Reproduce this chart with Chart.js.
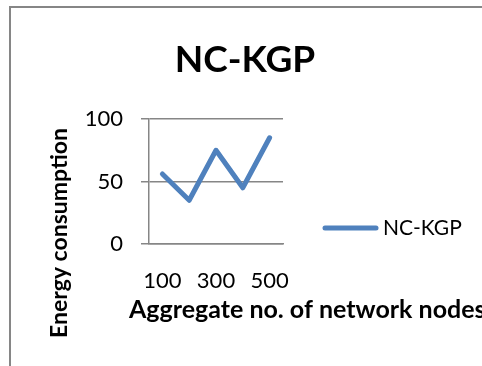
<!DOCTYPE html>
<html>
<head>
<meta charset="utf-8">
<script src="https://cdn.jsdelivr.net/npm/chart.js@4/dist/chart.umd.min.js"></script>
<style>
  html, body { margin: 0; padding: 0; background: #ffffff; }
  #wrap { width: 482px; height: 366px; }
</style>
</head>
<body>
<div id="wrap"><canvas id="chart" width="482" height="366"></canvas></div>
<script>
// Energy consumption of NC-KGP against the number of network nodes
const nodeCounts = [100, 200, 300, 400, 500];
const energyNcKgp = [56, 35, 75, 45, 85];
const yTickValues = [0, 50, 100];
const chartTitle = 'NC-KGP';
const seriesName = 'NC-KGP';
const xAxisTitle = 'Aggregate no. of network nodes';
const yAxisTitle = 'Energy consumption';

const FONT = 'Lato, Carlito, "Open Sans", sans-serif';
const AXIS_GREY = '#868686';
const SERIES_BLUE = '#4F81BD';

// Frame, heading, axis captions and the key, placed around the plot area
const decorations = {
  id: 'decorations',
  beforeDraw(chart) {
    const ctx = chart.ctx;
    ctx.save();
    ctx.fillStyle = '#ffffff';
    ctx.fillRect(0, 0, chart.width, chart.height);
    ctx.strokeStyle = AXIS_GREY;
    ctx.lineWidth = 2;
    ctx.beginPath();
    ctx.moveTo(10, chart.height + 2);
    ctx.lineTo(10, 7);
    ctx.lineTo(chart.width + 2, 7);
    ctx.stroke();
    ctx.restore();
  },
  afterDraw(chart) {
    const ctx = chart.ctx;
    const area = chart.chartArea;
    ctx.save();
    ctx.fillStyle = '#000000';
    ctx.textBaseline = 'alphabetic';

    // heading
    ctx.font = 'bold 37px ' + FONT;
    ctx.textAlign = 'center';
    ctx.fillText(chartTitle, 245, 72);

    // vertical axis caption
    ctx.font = 'bold 23px ' + FONT;
    ctx.textAlign = 'center';
    ctx.translate(area.left - 82, area.bottom - 11);
    ctx.rotate(-Math.PI / 2);
    ctx.fillText(yAxisTitle, 0, 0);
    ctx.setTransform(1, 0, 0, 1, 0, 0);

    // horizontal axis caption
    ctx.font = 'bold 25px ' + FONT;
    ctx.textAlign = 'left';
    ctx.fillText(xAxisTitle, area.left - 20, area.bottom + 74);

    // key
    const ds = chart.data.datasets[0];
    const keyY = area.bottom - 16;
    ctx.strokeStyle = ds.borderColor;
    ctx.lineWidth = ds.borderWidth;
    ctx.lineCap = 'round';
    ctx.beginPath();
    ctx.moveTo(area.right + 42, keyY);
    ctx.lineTo(area.right + 93, keyY);
    ctx.stroke();
    ctx.font = '21px ' + FONT;
    ctx.textAlign = 'left';
    ctx.fillText(ds.label, area.right + 100, keyY + 7);
    ctx.restore();
  }
};

new Chart(document.getElementById('chart'), {
  type: 'line',
  data: {
    labels: nodeCounts,
    datasets: [{
      label: seriesName,
      data: energyNcKgp,
      borderColor: SERIES_BLUE,
      backgroundColor: SERIES_BLUE,
      borderWidth: 5,
      borderCapStyle: 'round',
      borderJoinStyle: 'round',
      pointRadius: 0,
      pointHoverRadius: 0,
      tension: 0,
      fill: false
    }]
  },
  options: {
    responsive: false,
    devicePixelRatio: 1,
    animation: false,
    events: [],
    layout: { padding: { left: 0, right: 199, top: 119, bottom: 0 } },
    plugins: {
      legend: { display: false },
      tooltip: { enabled: false },
      title: { display: false }
    },
    scales: {
      x: {
        type: 'category',
        offset: true,
        grid: { display: false, drawTicks: false },
        border: { display: true, color: AXIS_GREY, width: 1.5 },
        ticks: {
          autoSkip: false,
          maxRotation: 0,
          padding: 24,
          color: '#000000',
          font: { family: FONT, size: 22 },
          callback(value, index) {
            return index % 2 === 0 ? this.getLabelForValue(value) : '';
          }
        },
        afterFit(scale) { scale.height = 122; }
      },
      y: {
        min: 0,
        max: 100,
        afterBuildTicks(scale) { scale.ticks = yTickValues.map(v => ({ value: v })); },
        grid: { color: AXIS_GREY, lineWidth: 1.5, tickLength: 8, drawTicks: true },
        border: { display: true, color: AXIS_GREY, width: 1.5 },
        ticks: {
          padding: 18,
          color: '#000000',
          font: { family: FONT, size: 22 }
        },
        afterFit(scale) { scale.width = 149; }
      }
    }
  },
  plugins: [decorations]
});
</script>
</body>
</html>
